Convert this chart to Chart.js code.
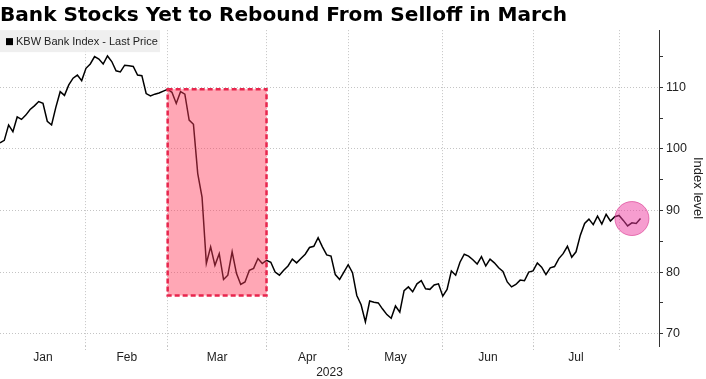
<!DOCTYPE html>
<html><head><meta charset="utf-8">
<script src="https://cdn.jsdelivr.net/npm/chart.js@4.4.0/dist/chart.umd.min.js"></script>
<style>html,body{margin:0;padding:0;background:#fff;}#wrap{width:706px;height:379px;position:relative;}</style>
</head><body><div id="wrap"><canvas id="c" width="706" height="379"></canvas></div>
<script>
const chartTitle = 'Bank Stocks Yet to Rebound From Selloff in March';
const seriesName = 'KBW Bank Index - Last Price';
const yAxisTitle = 'Index level';
const yearLabel = '2023';
const months = ['Jan', 'Feb', 'Mar', 'Apr', 'May', 'Jun', 'Jul'];
const tradingDaysPerMonth = [20, 19, 23, 19, 22, 21, 20];
const yTickValues = [70, 75, 80, 85, 90, 95, 100, 105, 110, 115];
const kbwIndex = [
  101.0, 101.4, 103.9, 102.8, 105.2, 104.8, 105.5, 106.4, 107.0, 107.7,
  107.4, 104.5, 103.9, 106.8, 109.3, 108.7, 110.4, 111.5, 112.0, 111.1,
  113.1, 113.8, 115.0, 114.6, 113.8, 115.1, 114.2, 112.7, 112.5, 113.6,
  113.5, 113.4, 112.0, 111.9, 109.0, 108.6, 108.9, 109.1, 109.4, 109.7,
  109.2, 107.4, 109.3, 108.9, 104.7, 104.0, 96.0, 92.2, 81.4, 84.1,
  81.1, 83.0, 78.8, 79.5, 83.3, 79.8, 78.0, 78.4, 80.3, 80.6,
  82.2, 81.4, 81.9, 81.6, 80.0, 79.5, 80.3, 81.0, 82.1, 81.5,
  82.2, 82.9, 84.0, 84.2, 85.6, 84.1, 82.8, 82.6, 79.6, 78.8,
  80.0, 81.2, 79.9, 76.2, 74.7, 71.9, 75.3, 75.1, 75.0, 74.0,
  73.1, 72.5, 74.5, 73.5, 77.0, 77.6, 76.8, 78.1, 78.6, 77.3,
  77.2, 77.9, 78.1, 76.1, 77.2, 80.2, 79.5, 81.6, 82.9, 82.6,
  82.0, 81.3, 82.5, 81.0, 82.1, 81.5, 80.7, 80.1, 78.4, 77.6,
  78.0, 78.7, 78.6, 80.0, 80.2, 81.5, 80.8, 79.6, 80.7, 80.9,
  82.2, 83.0, 84.2, 82.4, 83.3, 86.0, 87.9, 88.6, 87.7, 89.1,
  87.8, 89.4, 88.3, 89.0, 89.2, 88.4, 87.5, 88.0, 87.9, 88.7
];
// highlighted selloff window (trading-day index range and index level range)
const selloffDays = [39, 62];
const selloffLevels = [76.2, 109.7];
// latest-price marker (trading-day index, index level)
const latestPoint = [147, 88.7];

const monthStarts = [];
let acc = 0;
for (const d of tradingDaysPerMonth) { monthStarts.push(acc); acc += d; }
const monthEnds = monthStarts.map((s, i) => s + tradingDaysPerMonth[i]);
const monthMids = monthStarts.map((s, i) => (s + monthEnds[i]) / 2);
const xTickValues = [...monthMids, ...monthEnds].sort((a, b) => a - b);

const FONT = 'Liberation Sans';

const legendPlugin = {
  id: 'boxLegend',
  beforeDatasetsDraw(chart) {
    const ctx = chart.ctx, a = chart.chartArea;
    ctx.save();
    ctx.fillStyle = 'rgba(236,236,236,0.85)';
    ctx.fillRect(a.left, a.top, 160, 22);
    ctx.fillStyle = '#000';
    ctx.fillRect(a.left + 6, a.top + 8, 7, 7);
    ctx.fillStyle = '#222';
    ctx.font = '11px "' + FONT + '"';
    ctx.textBaseline = 'middle';
    ctx.fillText(seriesName, a.left + 16, a.top + 11.5);
    ctx.restore();
  }
};

const annotationPlugin = {
  id: 'highlights',
  afterDatasetsDraw(chart) {
    const ctx = chart.ctx, xs = chart.scales.x, ys = chart.scales.y;
    ctx.save();
    const x1 = xs.getPixelForValue(selloffDays[0]), x2 = xs.getPixelForValue(selloffDays[1]);
    const y1 = ys.getPixelForValue(selloffLevels[1]), y2 = ys.getPixelForValue(selloffLevels[0]);
    ctx.fillStyle = 'rgba(255,60,90,0.45)';
    ctx.fillRect(x1, y1, x2 - x1, y2 - y1);
    ctx.strokeStyle = '#e8264d';
    ctx.lineWidth = 2.5;
    ctx.setLineDash([5, 3]);
    ctx.strokeRect(x1, y1, x2 - x1, y2 - y1);
    ctx.setLineDash([]);
    const cx = xs.getPixelForValue(latestPoint[0]), cy = ys.getPixelForValue(latestPoint[1]);
    ctx.beginPath();
    ctx.arc(cx, cy, 17, 0, Math.PI * 2);
    ctx.fillStyle = 'rgba(238,60,160,0.5)';
    ctx.fill();
    ctx.strokeStyle = 'rgba(215,50,140,0.6)';
    ctx.lineWidth = 1;
    ctx.stroke();
    ctx.restore();
  }
};

new Chart(document.getElementById('c'), {
  type: 'line',
  data: {
    datasets: [{
      label: seriesName,
      data: kbwIndex.map((v, i) => ({ x: i, y: v })),
      borderColor: '#000',
      borderWidth: 1.5,
      pointRadius: 0,
      tension: 0,
      fill: false
    }]
  },
  options: {
    responsive: false,
    animation: false,
    devicePixelRatio: 1,
    layout: { padding: 0 },
    plugins: {
      legend: { display: false },
      tooltip: { enabled: false },
      title: {
        display: true, text: chartTitle, align: 'start', color: '#000',
        font: { family: 'DejaVu Sans', size: 20.1, weight: 'bold', lineHeight: 1.25 },
        padding: { top: 3, bottom: 2 }
      }
    },
    scales: {
      x: {
        type: 'linear', position: 'bottom', min: 0, max: 153.3,
        afterBuildTicks: s => { s.ticks = xTickValues.map(v => ({ value: v })); },
        afterFit: s => { s.height = 33; },
        ticks: {
          autoSkip: false, maxRotation: 0, minRotation: 0, padding: 0, color: '#222',
          font: { family: FONT, size: 12 },
          callback: v => { const k = monthMids.indexOf(v); return k >= 0 ? months[k] : ''; }
        },
        grid: {
          color: c => (c.tick && monthEnds.includes(c.tick.value)) ? '#c4c4c4' : 'rgba(0,0,0,0)',
          tickColor: c => (c.tick && monthEnds.includes(c.tick.value)) ? '#c4c4c4' : 'rgba(0,0,0,0)',
          tickLength: 4, lineWidth: 1, tickBorderDash: [1, 2]
        },
        border: { display: false, dash: [1, 2] },
        title: { display: true, text: yearLabel, color: '#222', font: { family: FONT, size: 12, lineHeight: 1.0 }, padding: 0 }
      },
      y: {
        type: 'linear', position: 'right', min: 68, max: 119.3,
        afterBuildTicks: s => { s.ticks = yTickValues.map(v => ({ value: v })); },
        afterFit: s => { s.width = 47; },
        ticks: {
          padding: 3, color: '#222', font: { family: FONT, size: 12.5 },
          callback: v => (v % 10 === 0 ? String(v) : '')
        },
        grid: {
          color: c => (c.tick && c.tick.value % 10 === 0) ? '#c4c4c4' : 'rgba(0,0,0,0)',
          tickColor: '#333', tickLength: 4, lineWidth: 1
        },
        border: { display: true, color: '#333', width: 1, dash: [1, 2] },
        title: { display: true, text: yAxisTitle, color: '#222', font: { family: FONT, size: 13 }, padding: 1 }
      }
    }
  },
  plugins: [legendPlugin, annotationPlugin]
});
</script>
</body></html>
